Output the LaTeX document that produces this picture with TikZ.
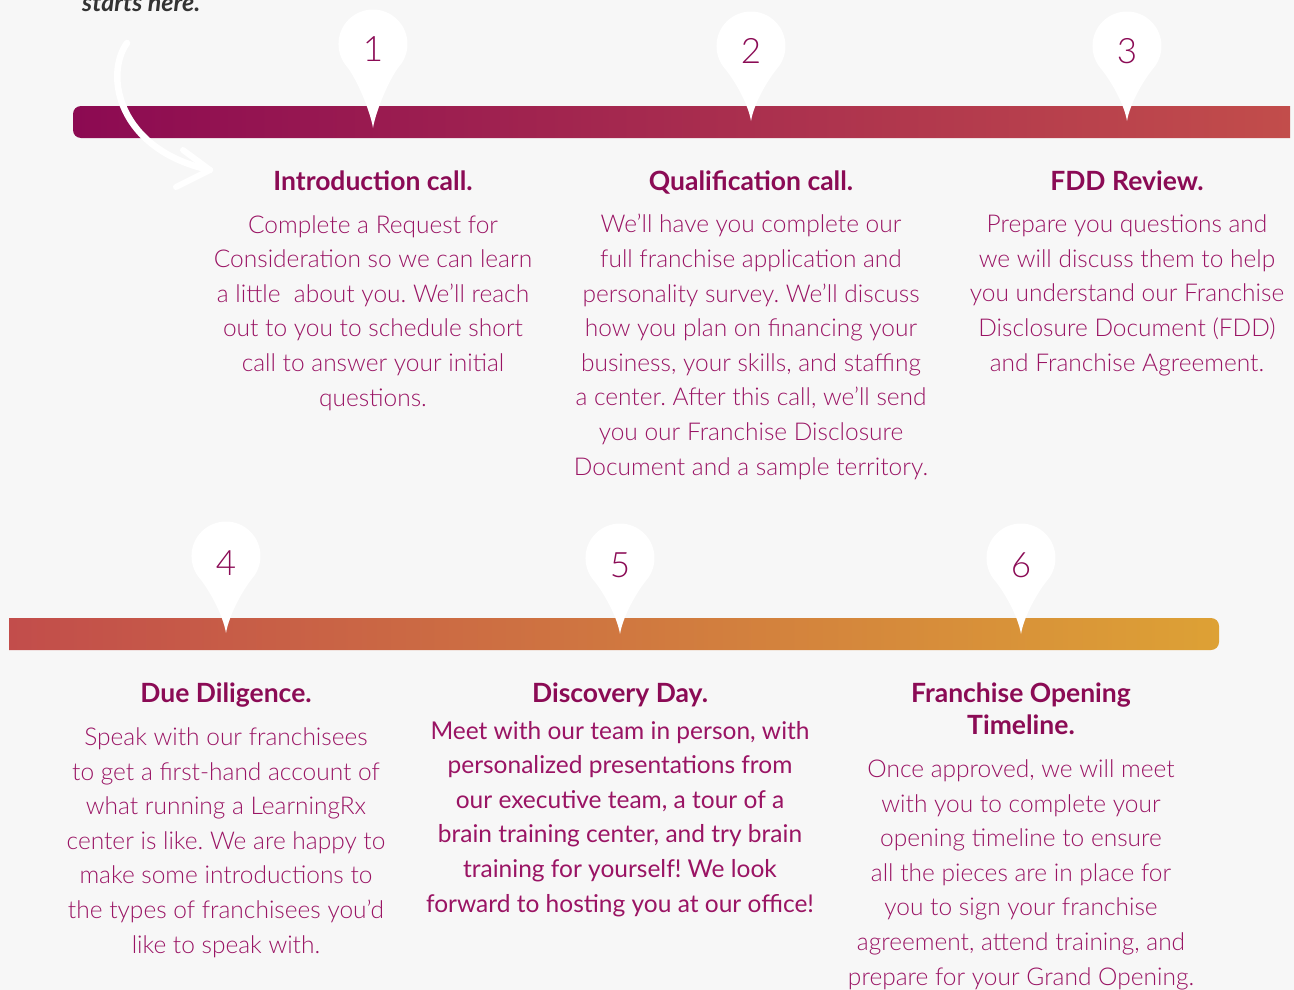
\documentclass[tikz,border=0pt]{standalone}
\usepackage{fontspec}
\setmainfont{Lato}[UprightFont=* Light, BoldFont=* Bold, ItalicFont=* Light Italic, BoldItalicFont=* Bold Italic]
\newfontfamily\regfont{Lato}
\usetikzlibrary{arrows.meta,positioning}
\frenchspacing
\definecolor{pagebg}{HTML}{F7F7F7}
\definecolor{plum}{HTML}{8B0B55}
\definecolor{plumtext}{HTML}{9A1464}
\definecolor{barA}{HTML}{8C0A52}
\definecolor{barB}{HTML}{C24D4B}
\definecolor{barC}{HTML}{DDA135}
\definecolor{darkgray}{HTML}{333333}
\tikzset{
  steptitle/.style={anchor=base, inner sep=0pt, align=center, text=plum,
    font=\fontsize{26.5}{32}\selectfont\bfseries},
  stepbody/.style={anchor=base, inner sep=0pt, align=center, text=plumtext,
    font=\fontsize{24.5}{34.6}\selectfont},
  stepnum/.style={anchor=base, inner sep=0pt, text=plum,
    font=\fontsize{35}{35}\selectfont},
}
% marker: center x, center y, tip y
\newcommand{\pinmark}[3]{%
  \fill[white] (#1,#3) .. controls (#1+3,#3-18) and (#1+16.8,#2+33.8) .. (#1+26.4,#2+22.2)
    arc[start angle=40,end angle=-220,radius=34.5]
    .. controls (#1-16.8,#2+33.8) and (#1-3,#3-18) .. cycle;}
\begin{document}
\begin{tikzpicture}[x=1pt,y=-1pt]
\fill[pagebg] (0,0) rectangle (1294,990);
\useasboundingbox (0,0) rectangle (1294,990);

\node[anchor=base west, inner sep=0pt, text=darkgray,
  font=\fontsize{25}{28}\selectfont\bfseries\itshape] (start) at (82,12) {starts here.};

\shade[left color=barA, right color=barB]
  (1290,138) -- (1290,106) [rounded corners=8pt] -- (73,106) -- (73,138) [sharp corners] -- cycle;
\shade[left color=barB, right color=barC]
  (9,650) -- (9,618) [rounded corners=8pt] -- (1219,618) -- (1219,650) [sharp corners] -- cycle;

\pinmark{373}{44}{128}
\pinmark{751}{46}{121}
\pinmark{1127}{46}{121}
\pinmark{226}{556}{633}
\pinmark{620}{558}{634}
\pinmark{1021}{558}{634}

\coordinate (tail) at (127,43);
\coordinate (tip) at (210,170);
\draw[white, line width=6.5pt, line cap=round] (tail) .. controls (104,75) and (118,150) .. (tip);
\draw[white, line width=6pt, line cap=round, line join=round] (183,150) -- (tip) -- (176,187);

\node[stepnum] (n1) at (373,62) {1};
\node[stepnum] (n2) at (751,64) {2};
\node[stepnum] (n3) at (1127,64) {3};
\node[stepnum] (n4) at (226,575) {4};
\node[stepnum] (n5) at (620,577) {5};
\node[stepnum] (n6) at (1021,577) {6};

\node[steptitle] (t1) at (373,190) {Introduction call.};
\node[stepbody] (b1) at (373,406) {Complete a Request for\\Consideration so we can learn\\a little\ \ about you. We’ll reach\\out to you to schedule short\\call to answer your initial\\questions.};

\node[steptitle] (t2) at (751,190) {Qualification call.};
\node[stepbody] (b2) at (751,475) {We’ll have you complete our\\full franchise application and\\personality survey. We’ll discuss\\how you plan on financing your\\business, your skills, and staffing\\a center. After this call, we’ll send\\you our Franchise Disclosure\\Document and a sample territory.};

\node[steptitle] (t3) at (1127,190) {FDD Review.};
\node[stepbody] (b3) at (1127,371) {Prepare you questions and\\we will discuss them to help\\you understand our Franchise\\Disclosure Document (FDD)\\and Franchise Agreement.};

\node[steptitle] (t4) at (226,702) {Due Diligence.};
\node[stepbody] (b4) at (226,953) {Speak with our franchisees\\to get a first-hand account of\\what running a LearningRx\\center is like. We are happy to\\make some introductions to\\the types of franchisees you’d\\like to speak with.};

\node[steptitle] (t5) at (620,702) {Discovery Day.};
\node[stepbody, font=\fontsize{24.5}{34.6}\selectfont\regfont] (b5) at (620,912) {Meet with our team in person, with\\personalized presentations from\\our executive team, a tour of a\\brain training center, and try brain\\training for yourself! We look\\forward to hosting you at our office!};

\node[steptitle] (t6) at (1021,734) {Franchise Opening\\Timeline.};
\node[stepbody] (b6) at (1021,985) {Once approved, we will meet\\with you to complete your\\opening timeline to ensure\\all the pieces are in place for\\you to sign your franchise\\agreement, attend training, and\\prepare for your Grand Opening.};
\end{tikzpicture}
\end{document}
